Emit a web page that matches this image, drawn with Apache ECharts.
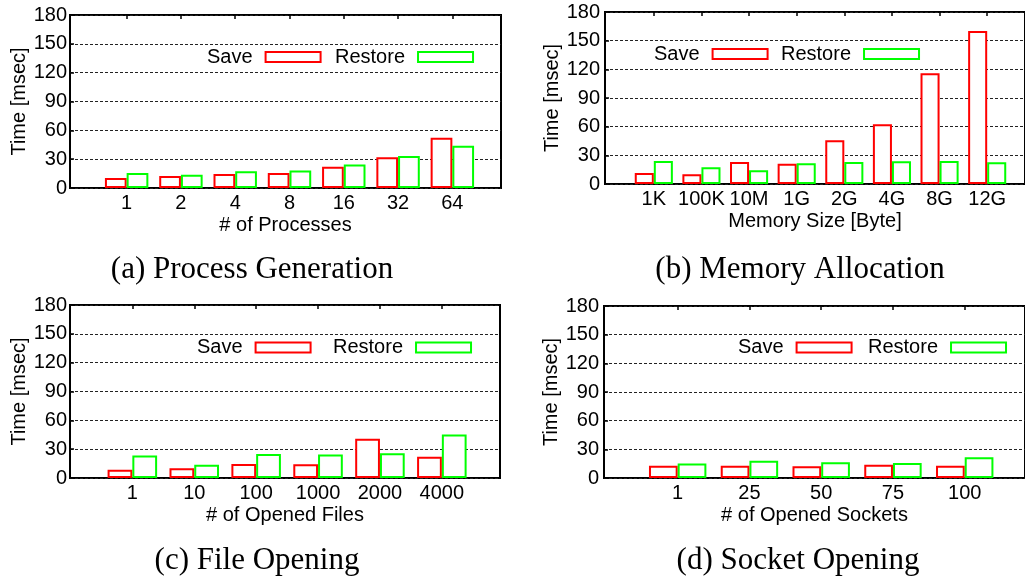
<!DOCTYPE html>
<html>
<head>
<meta charset="utf-8">
<script src="https://cdn.jsdelivr.net/npm/echarts@6/dist/echarts.min.js"></script>
<style>
html,body{margin:0;padding:0;background:#fff;}
#main{width:1025px;height:579px;}
</style>
</head>
<body>
<div id="main"></div>
<script>
// ---- data ----
const yMin = 0, yMax = 180, yStep = 30;
const seriesNames = ['Save', 'Restore'];
const yTitle = 'Time [msec]';

const catsA = ['1', '2', '4', '8', '16', '32', '64'];
const saveA = [10.5, 12.5, 14.6, 15.7, 22, 32, 52.3];
const restoreA = [15.7, 13.9, 17.4, 18.1, 24.4, 33.4, 43.9];

const catsB = ['1K', '100K', '10M', '1G', '2G', '4G', '8G', '12G'];
const saveB = [11.5, 10.1, 23.1, 21.3, 45.8, 62.6, 116, 160];
const restoreB = [24.1, 17.5, 14.3, 21.7, 23.1, 23.8, 24.1, 22.7];

const catsC = ['1', '10', '100', '1000', '2000', '4000'];
const saveC = [8.7, 10.1, 14.6, 14.3, 40.8, 22];
const restoreC = [23.3, 13.9, 25.1, 24.4, 25.8, 45.3];

const catsD = ['1', '25', '50', '75', '100'];
const saveD = [12.9, 12.9, 12.2, 13.9, 12.9];
const restoreD = [15.3, 18.1, 16.4, 15.7, 21.6];

const xTitles = ['# of Processes', 'Memory Size [Byte]', '# of Opened Files', '# of Opened Sockets'];
const captions = ['(a) Process Generation', '(b) Memory Allocation', '(c) File Opening', '(d) Socket Opening'];

// ---- layout ----
const SANS = '"Liberation Sans", Arial, Helvetica, sans-serif';
const SERIF = '"Liberation Serif", "Times New Roman", serif';
const RED = '#ff0000', GREEN = '#00ff00';

const panels = [
  { cats: catsA, save: saveA, restore: restoreA,
    frame: { left: 70, top: 15, width: 431, height: 173 }, bars: { left: 99.5, width: 380 },
    legSave: 207, legRestore: 335, legY: 57, capX: 252, capY: 270, yLabelMargin: 3 },
  { cats: catsB, save: saveB, restore: restoreB,
    frame: { left: 605, top: 12, width: 425, height: 172 }, bars: { left: 630, width: 381 },
    legSave: 654, legRestore: 781, legY: 54, capX: 800, capY: 270, yLabelMargin: 5 },
  { cats: catsC, save: saveC, restore: restoreC,
    frame: { left: 70, top: 305, width: 430, height: 173 }, bars: { left: 101.4, width: 371.4 },
    legSave: 197, legRestore: 333, legY: 347.5, capX: 257, capY: 561, yLabelMargin: 3 },
  { cats: catsD, save: saveD, restore: restoreD,
    frame: { left: 604, top: 306, width: 426, height: 172 }, bars: { left: 641.8, width: 358.8 },
    legSave: 738, legRestore: 868, legY: 347.5, capX: 798, capY: 561, yLabelMargin: 5 }
];

const grid = [], xAxis = [], yAxis = [], series = [], legend = [], graphic = [];

panels.forEach((p, i) => {
  const f = p.frame;
  grid.push({ left: f.left, top: f.top, width: f.width, height: f.height,
    show: true, borderColor: '#000', borderWidth: 2, backgroundColor: 'transparent' });
  grid.push({ left: p.bars.left, top: f.top, width: p.bars.width, height: f.height });

  // frame x axis (title only)
  xAxis.push({ type: 'value', gridIndex: 2 * i, min: 0, max: 1,
    axisLine: { show: false }, axisTick: { show: false }, axisLabel: { show: false },
    splitLine: { show: false },
    name: xTitles[i], nameLocation: 'middle', nameGap: 27,
    nameTextStyle: { fontSize: 20, color: '#000', fontFamily: SANS } });
  // bar category axis
  xAxis.push({ type: 'category', gridIndex: 2 * i + 1, data: p.cats, position: 'bottom',
    axisLine: { show: false }, axisTick: { show: false },
    axisLabel: { fontSize: 20, color: '#000', fontFamily: SANS, margin: 5, interval: 0 } });
  // top ticks
  xAxis.push({ type: 'category', gridIndex: 2 * i + 1, data: p.cats, position: 'top',
    axisLine: { show: false }, axisLabel: { show: false },
    axisTick: { show: true, inside: true, alignWithLabel: true, length: 4,
      lineStyle: { color: '#000', width: 1.5 } } });

  yAxis.push({ type: 'value', gridIndex: 2 * i, min: yMin, max: yMax, interval: yStep,
    axisLine: { show: false },
    axisTick: { show: true, inside: true, length: 4, lineStyle: { color: '#000', width: 1.5 } },
    axisLabel: { fontSize: 20, color: '#000', fontFamily: SANS, margin: p.yLabelMargin },
    splitLine: { show: true, lineStyle: { color: '#222', width: 1, type: [3, 2] } },
    name: yTitle, nameLocation: 'middle', nameGap: 40, nameRotate: 90,
    nameTextStyle: { fontSize: 20, color: '#000', fontFamily: SANS } });
  yAxis.push({ type: 'value', gridIndex: 2 * i + 1, min: yMin, max: yMax, show: false });

  const vals = [p.save, p.restore];
  const cols = [RED, GREEN];
  seriesNames.forEach((nm, k) => {
    series.push({ type: 'bar', name: nm, xAxisIndex: 3 * i + 1, yAxisIndex: 2 * i + 1,
      data: vals[k], barGap: '0%', barCategoryGap: '20%',
      itemStyle: { color: '#fff', borderColor: cols[k], borderWidth: 2 } });
  });

  [[seriesNames[0], p.legSave], [seriesNames[1], p.legRestore]].forEach(([nm, lx]) => {
    legend.push({ data: [nm], left: lx, top: p.legY - 10, padding: 0, align: 'right',
      orient: 'horizontal', itemWidth: 55, itemHeight: 10, icon: 'rect', selectedMode: false,
      textStyle: { fontSize: 20, color: '#000', fontFamily: SANS, padding: [0, 8, 0, 0] } });
  });

  graphic.push({ type: 'text', x: p.capX, y: p.capY,
    style: { text: captions[i], font: '31px ' + SERIF, fill: '#000',
      textAlign: 'center', textVerticalAlign: 'middle' } });
});

const chart = echarts.init(document.getElementById('main'), null, { renderer: 'canvas' });
chart.setOption({
  animation: false,
  backgroundColor: '#fff',
  grid, xAxis, yAxis, series, legend, graphic
});
</script>
</body>
</html>
